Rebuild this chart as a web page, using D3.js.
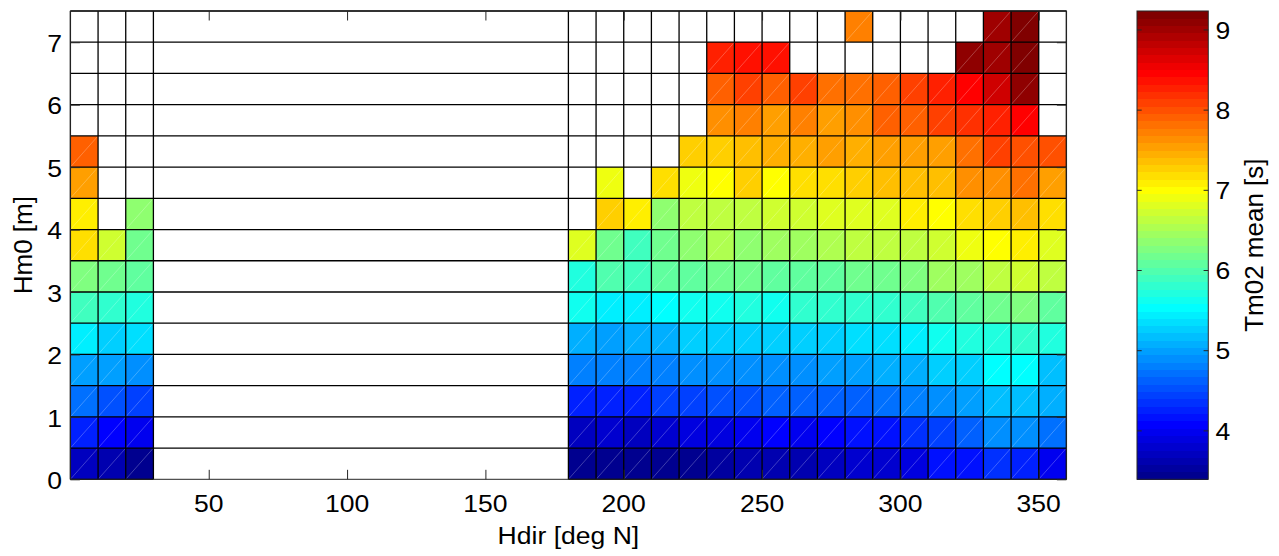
<!DOCTYPE html>
<html><head><meta charset="utf-8">
<script src="https://cdn.jsdelivr.net/npm/d3@7"></script>
<style>
body{margin:0;background:#fff}
svg{display:block}
text{font-family:"Liberation Sans",Arial,Helvetica,sans-serif;fill:#000}
</style>
</head><body>
<svg id="chart" width="1279" height="556"></svg>
<script>
// ---------- data ----------
// lower edges of the Hdir bins (10 deg wide) that hold data
const hdirLower = [0,10,20,180,190,200,210,220,230,240,250,260,270,280,290,300,310,320,330,340,350];
// lower edges of the Hm0 bins (0.5 m wide)
const hm0Lower = [0,0.5,1,1.5,2,2.5,3,3.5,4,4.5,5,5.5,6,6.5,7];
// Tm02 mean per Hm0 bin (rows, bottom to top) and Hdir bin (columns)
const tm02Row0  = [3.73,3.58,3.46, 3.46,3.46,3.46,3.42,3.42,3.50,3.58,3.61,3.64, 3.67,3.78,3.81,3.87,4.12,4.18,4.35,4.29,4.01];
const tm02Row1  = [4.29,4.04,3.96, 3.73,3.76,3.73,3.81,3.87,3.90,3.96,4.04,4.01, 4.04,4.12,4.18,4.35,4.46,4.64,4.92,4.92,4.69];
const tm02Row2  = [4.72,4.55,4.41, 4.24,4.29,4.26,4.41,4.46,4.52,4.55,4.58,4.58, 4.61,4.64,4.69,4.81,4.90,5.00,5.21,5.18,5.07];
const tm02Row3  = [5.00,4.95,4.87, 4.81,4.78,4.78,4.84,4.90,4.87,4.87,4.90,4.92, 4.98,5.00,5.04,5.10,5.24,5.29,5.50,5.50,5.21];
const tm02Row4  = [5.43,5.27,5.38, 5.10,5.00,5.04,5.12,5.27,5.27,5.29,5.29,5.27, 5.29,5.35,5.35,5.47,5.58,5.70,5.75,5.78,5.70];
const tm02Row5  = [5.87,5.81,5.70, 5.58,5.43,5.43,5.55,5.58,5.60,5.70,5.64,5.81, 5.81,5.78,5.84,5.87,5.95,6.04,6.15,6.24,6.04];
const tm02Row6  = [6.30,6.15,6.04, 5.70,5.98,5.92,6.04,6.10,6.15,6.13,6.10,6.04, 6.07,6.15,6.21,6.27,6.44,6.44,6.61,6.76,6.59];
const tm02Row7  = [7.21,6.73,6.18, 6.78,6.15,5.87,6.13,6.32,6.50,6.38,6.44,6.41, 6.52,6.61,6.59,6.67,6.70,6.87,6.96,7.07,6.78];
const tm02Row8  = [7.04,null,6.38, null,7.29,7.04,6.38,6.59,6.59,6.67,6.73,6.73, 6.78,6.81,6.78,7.04,6.98,7.21,7.24,7.33,7.18];
const tm02Row9  = [7.55,null,null, null,6.92,null,7.21,6.92,6.96,7.27,6.96,7.18, 7.18,7.24,7.39,7.36,7.33,7.67,7.67,7.81,7.53];
const tm02Row10 = [7.87,null,null, null,null,null,null,7.24,7.29,7.39,7.44,7.42, 7.53,7.42,7.53,7.58,7.58,7.81,8.08,8.02,8.00];
const tm02Row11 = [null,null,null, null,null,null,null,null,7.64,7.70,7.58,7.76, 7.58,7.67,7.87,7.87,8.13,8.16,8.24,8.50,null];
const tm02Row12 = [null,null,null, null,null,null,null,null,7.87,8.13,7.93,8.10, 7.85,7.85,7.90,8.05,8.24,8.50,8.76,9.05,null];
const tm02Row13 = [null,null,null, null,null,null,null,null,8.24,8.38,8.33,null, null,null,null,null,null,9.07,9.04,9.16,null];
const tm02Row14 = [null,null,null, null,null,null,null,null,null,null,null,null, null,7.73,null,null,null,null,9.04,9.20,null];
const tm02Rows = [tm02Row0,tm02Row1,tm02Row2,tm02Row3,tm02Row4,tm02Row5,tm02Row6,tm02Row7,
                  tm02Row8,tm02Row9,tm02Row10,tm02Row11,tm02Row12,tm02Row13,tm02Row14];
// grid edges drawn as vertical lines (data columns only)
const hdirEdges = [0,10,20,30,180,190,200,210,220,230,240,250,260,270,280,290,300,310,320,330,340,350,360];
const xTicks = [50,100,150,200,250,300,350];
const yTicks = [0,1,2,3,4,5,6,7];
const cTicks = [4,5,6,7,8,9];
const colorRange = [3.39, 9.23];
const nLevels = 64;
const xLabel = "Hdir [deg N]";
const yLabel = "Hm0 [m]";
const cLabel = "Tm02 mean [s]";

// ---------- layout ----------
const P = {l:70.4, r:1066.4, t:11, b:479.3};
const CB = {l:1137, r:1208.3, t:11, b:479.3};
const FS = 23.5, SX = 1.13, FSR = 26;
const binW = 10, binH = 0.5;

const svg = d3.select("#chart");
const x = d3.scaleLinear().domain([0,360]).range([P.l,P.r]);
const y = d3.scaleLinear().domain([0,7.5]).range([P.b,P.t]);
const cY = d3.scaleLinear().domain(colorRange).range([CB.b,CB.t]);

function jet(t){
  const c = v => Math.max(0, Math.min(1, v));
  const r = c(1.5 - Math.abs(4*t - 3));
  const g = c(1.5 - Math.abs(4*t - 2));
  const b = c(1.5 - Math.abs(4*t - 1));
  return d3.rgb(r*255, g*255, b*255).formatHex();
}
function colorOf(v){
  let i = Math.floor((v - colorRange[0]) / (colorRange[1]-colorRange[0]) * nLevels);
  i = Math.max(0, Math.min(nLevels-1, i));
  return jet((i+1)/nLevels);
}

// ---------- cells ----------
const cells = [];
tm02Rows.forEach((row, ri) => row.forEach((v, ci) => {
  if (v !== null) cells.push({x0: hdirLower[ci], y0: hm0Lower[ri], v});
}));
const gCells = svg.append("g");
gCells.selectAll("rect").data(cells).join("rect")
  .attr("x", d => x(d.x0))
  .attr("y", d => y(d.y0 + binH))
  .attr("width", d => x(d.x0 + binW) - x(d.x0))
  .attr("height", d => y(d.y0) - y(d.y0 + binH))
  .attr("fill", d => colorOf(d.v))
  .attr("shape-rendering", "crispEdges");
gCells.selectAll("line").data(cells).join("line")
  .attr("x1", d => x(d.x0)).attr("y1", d => y(d.y0))
  .attr("x2", d => x(d.x0 + binW)).attr("y2", d => y(d.y0 + binH))
  .attr("stroke", "#ffffff").attr("stroke-opacity", 0.35).attr("stroke-width", 0.7);

// ---------- grid ----------
const gGrid = svg.append("g").attr("stroke", "#000").attr("stroke-width", 1.3);
gGrid.selectAll("line.h").data(hm0Lower.slice(1).concat([7.5])).join("line")
  .attr("class","h")
  .attr("x1", P.l).attr("x2", P.r)
  .attr("y1", d => y(d)).attr("y2", d => y(d));
gGrid.selectAll("line.v").data(hdirEdges).join("line")
  .attr("class","v")
  .attr("x1", d => x(d)).attr("x2", d => x(d))
  .attr("y1", P.t).attr("y2", P.b);
gGrid.append("line").attr("x1", x(0)).attr("x2", x(30)).attr("y1", y(0)).attr("y2", y(0));
gGrid.append("line").attr("x1", x(180)).attr("x2", x(360)).attr("y1", y(0)).attr("y2", y(0));

// ---------- axes (ticks via d3 axes) ----------
const tickLen = 9.5;
const axisColor = "#262626";
function styleAxis(g){
  g.select(".domain").remove();
  g.selectAll(".tick line").attr("stroke", axisColor).attr("stroke-width", 1);
  g.selectAll(".tick text").remove();
}
svg.append("g").attr("transform", `translate(0,${P.b})`)
  .call(d3.axisBottom(x).tickValues(xTicks).tickSizeInner(-tickLen).tickSizeOuter(0)).call(styleAxis);
svg.append("g").attr("transform", `translate(0,${P.t})`)
  .call(d3.axisTop(x).tickValues(xTicks).tickSizeInner(-tickLen).tickSizeOuter(0)).call(styleAxis);
svg.append("g").attr("transform", `translate(${P.l},0)`)
  .call(d3.axisLeft(y).tickValues(yTicks).tickSizeInner(-tickLen).tickSizeOuter(0)).call(styleAxis);
svg.append("g").attr("transform", `translate(${P.r},0)`)
  .call(d3.axisRight(y).tickValues(yTicks).tickSizeInner(-tickLen).tickSizeOuter(0)).call(styleAxis);

// box
svg.append("rect").attr("x", P.l).attr("y", P.t).attr("width", P.r-P.l).attr("height", P.b-P.t)
  .attr("fill","none").attr("stroke", axisColor).attr("stroke-width", 1);

// tick labels
const fmt = d3.format("d");
svg.append("g").selectAll("text").data(xTicks).join("text")
  .attr("transform", d => `translate(${x(d)},${P.b+33}) scale(${SX},1)`)
  .attr("text-anchor","middle").attr("font-size", FS).text(fmt);
svg.append("g").selectAll("text").data(yTicks).join("text")
  .attr("transform", d => `translate(${P.l-8.4},${y(d)+9.8}) scale(${SX},1)`)
  .attr("text-anchor","end").attr("font-size", FS).text(fmt);

// axis titles
svg.append("text").attr("transform", `translate(${(P.l+P.r)/2},${543.5}) scale(${SX},1)`)
  .attr("text-anchor","middle").attr("font-size", FS).text(xLabel);
svg.append("text").attr("transform", `translate(31.5,${(P.t+P.b)/2}) rotate(-90)`)
  .attr("text-anchor","middle").attr("font-size", FSR).text(yLabel);

// ---------- colorbar ----------
const levels = d3.range(nLevels);
const step = (colorRange[1]-colorRange[0]) / nLevels;
svg.append("g").selectAll("rect").data(levels).join("rect")
  .attr("x", CB.l).attr("width", CB.r-CB.l)
  .attr("y", i => cY(colorRange[0] + (i+1)*step))
  .attr("height", i => cY(colorRange[0] + i*step) - cY(colorRange[0] + (i+1)*step) + 0.5)
  .attr("fill", i => jet((i+1)/nLevels))
  .attr("shape-rendering","crispEdges");
svg.append("rect").attr("x", CB.l).attr("y", CB.t).attr("width", CB.r-CB.l).attr("height", CB.b-CB.t)
  .attr("fill","none").attr("stroke", axisColor).attr("stroke-width", 1);
const cbTick = 4.7;
svg.append("g").attr("transform", `translate(${CB.l},0)`)
  .call(d3.axisLeft(cY).tickValues(cTicks).tickSizeInner(-cbTick).tickSizeOuter(0)).call(styleAxis);
svg.append("g").attr("transform", `translate(${CB.r},0)`)
  .call(d3.axisRight(cY).tickValues(cTicks).tickSizeInner(-cbTick).tickSizeOuter(0)).call(styleAxis);
svg.append("g").selectAll("text").data(cTicks).join("text")
  .attr("transform", d => `translate(1215.5,${cY(d)+9.3}) scale(${SX},1)`)
  .attr("text-anchor","start").attr("font-size", FS).text(fmt);
svg.append("text").attr("transform", `translate(1263,${(CB.t+CB.b)/2}) rotate(-90)`)
  .attr("text-anchor","middle").attr("font-size", FSR).text(cLabel);
</script>
</body></html>
